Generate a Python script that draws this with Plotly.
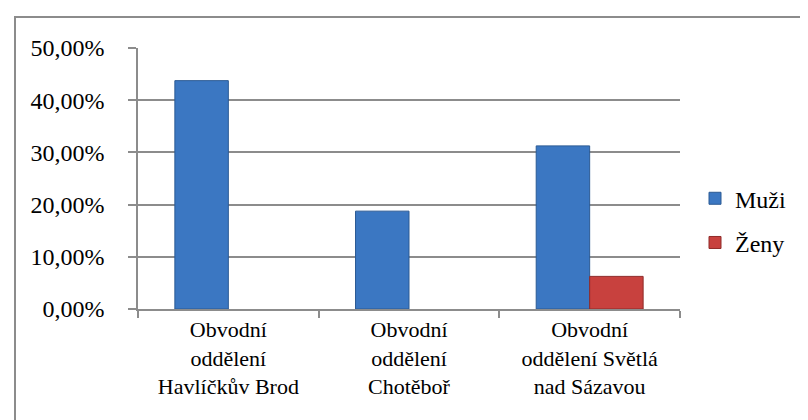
import plotly.graph_objects as go

categories = [
    "Obvodní<br>oddělení<br>Havlíčkův Brod",
    "Obvodní<br>oddělení<br>Chotěboř",
    "Obvodní<br>oddělení Světlá<br>nad Sázavou",
]
muzi = [0.4375, 0.1875, 0.3125]
zeny = [0.0, 0.0, 0.0625]
y_ticks = [0, 0.1, 0.2, 0.3, 0.4, 0.5]

W, H = 808, 420
L, R, T, B = 130, 136, 40, 118.5
pw, ph = W - L - R, H - T - B

def px_x(x):
    return (x - L) / pw

def px_y(y):
    return (H - B - y) / ph

def nz(vals):
    return [v if v else None for v in vals]

fam = "Liberation Serif, Times New Roman, serif"
font = dict(family=fam, size=24, color="#000000")
xfont = dict(family=fam, size=22, color="#000000")
lfont = dict(family=fam, size=24, color="#000000")

fig = go.Figure()
fig.add_trace(go.Bar(
    x=categories, y=nz(muzi), name="Muži",
    marker=dict(color="#3B77C2", line=dict(color="#2B5A94", width=1)),
    legendgroup="a",
))
fig.add_trace(go.Bar(
    x=categories, y=nz(zeny), name="Ženy",
    marker=dict(color="#C8413E", line=dict(color="#8F2B29", width=1)),
    legendgroup="b",
))

fig.update_layout(
    width=W, height=H,
    margin=dict(l=L, r=R, t=T, b=B, pad=0),
    paper_bgcolor="white", plot_bgcolor="white",
    font=font,
    separators=", ",
    barmode="group",
    bargap=0.408, bargroupgap=0,
    showlegend=True,
    legend=dict(
        x=px_x(687), y=px_y(213), xanchor="left", yanchor="middle",
        font=lfont, traceorder="grouped", tracegroupgap=10,
        itemwidth=30, bgcolor="rgba(0,0,0,0)",
    ),
    xaxis=dict(
        showline=True, linecolor="#8C8C8C", linewidth=1.5,
        ticks="outside", tickson="boundaries", ticklen=7, tickcolor="#8C8C8C",
        tickwidth=1.5, showgrid=False, tickfont=xfont,
    ),
    yaxis=dict(
        range=[0, 0.5], tickvals=y_ticks, tickformat=".2%",
        showline=True, linecolor="#8C8C8C", linewidth=1.5,
        ticks="outside", ticklen=8, tickcolor="#8C8C8C", tickwidth=1.5,
        showgrid=True, gridcolor="#8C8C8C", gridwidth=1.5,
        zeroline=False, tickfont=font, ticklabelstandoff=19,
    ),
    shapes=[dict(
        type="rect", xref="paper", yref="paper",
        x0=px_x(7), x1=px_x(800), y0=px_y(440), y1=px_y(9),
        line=dict(color="#8C8C8C", width=2), fillcolor="rgba(0,0,0,0)",
        layer="below",
    )],
)

fig.write_html("out.html")
